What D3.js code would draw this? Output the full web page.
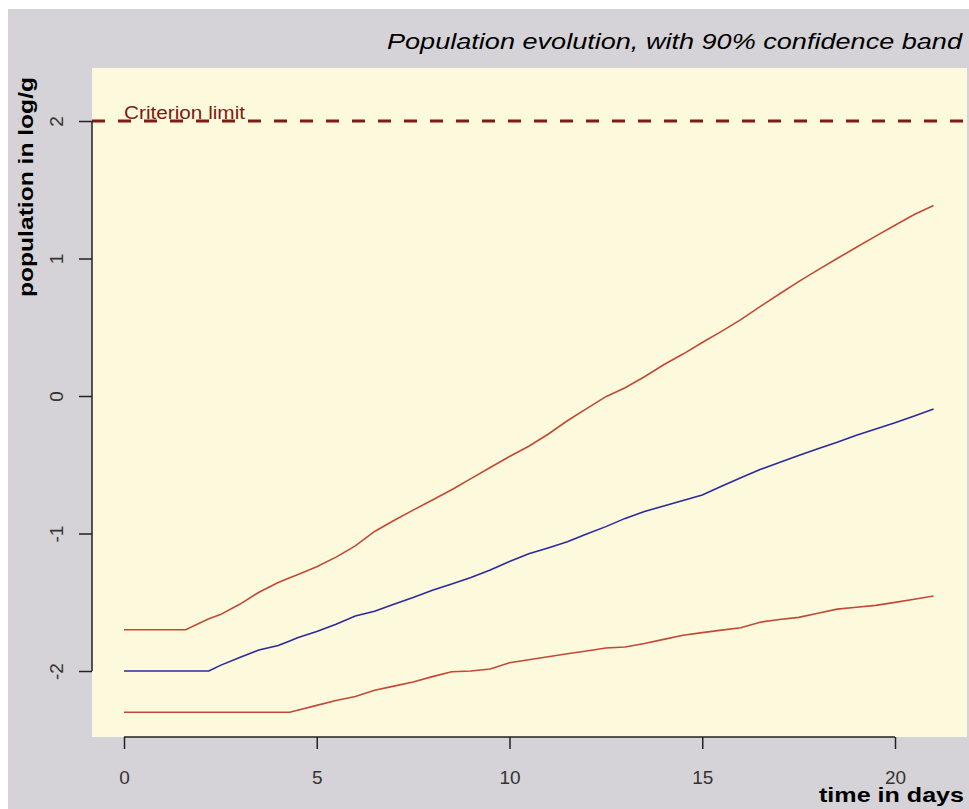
<!DOCTYPE html>
<html>
<head>
<meta charset="utf-8">
<script src="https://cdn.jsdelivr.net/npm/d3@7"></script>
<style>
  html, body { margin: 0; padding: 0; background: #ffffff; }
  svg { display: block; }
</style>
</head>
<body>
<svg id="chart" width="969" height="809"></svg>
<script>
// ---- data ----
const days = [0, 0.5, 1, 1.6, 2.2, 2.5, 3, 3.5, 4, 4.3, 4.5, 5, 5.5, 6, 6.5, 7, 7.5, 8, 8.5, 9, 9.5, 10,
  10.5, 11, 11.5, 12, 12.5, 13, 13.5, 14, 14.5, 15, 15.5, 16, 16.5, 17, 17.5, 18, 18.5, 19, 19.5, 20, 20.5, 21];
const upperBand = [-1.70, -1.70, -1.70, -1.70, -1.62, -1.59, -1.515, -1.427, -1.357, -1.322, -1.30, -1.242, -1.172,
  -1.09, -0.985, -0.905, -0.83, -0.756, -0.682, -0.601, -0.52, -0.44, -0.365, -0.278, -0.18, -0.092, -0.005,
  0.06, 0.14, 0.227, 0.305, 0.389, 0.47, 0.555, 0.65, 0.742, 0.832, 0.917, 1.0, 1.082, 1.163, 1.242, 1.32, 1.385];
const meanPop = [-2.0, -2.0, -2.0, -2.0, -2.0, -1.959, -1.902, -1.847, -1.815, -1.781, -1.758, -1.713, -1.66,
  -1.60, -1.565, -1.515, -1.466, -1.413, -1.367, -1.32, -1.265, -1.203, -1.147, -1.105, -1.06, -1.004, -0.95,
  -0.89, -0.84, -0.80, -0.76, -0.72, -0.656, -0.595, -0.535, -0.484, -0.432, -0.383, -0.336, -0.285, -0.24,
  -0.195, -0.145, -0.095];
const lowerBand = [-2.30, -2.30, -2.30, -2.30, -2.30, -2.30, -2.30, -2.30, -2.30, -2.30, -2.285, -2.25, -2.215,
  -2.185, -2.14, -2.11, -2.08, -2.041, -2.005, -2.0, -1.985, -1.94, -1.918, -1.896, -1.875, -1.854, -1.833,
  -1.825, -1.80, -1.77, -1.74, -1.721, -1.703, -1.685, -1.645, -1.626, -1.61, -1.58, -1.55, -1.536, -1.523,
  -1.501, -1.478, -1.455];
const criterionLimit = 2;
const xTicks = [0, 5, 10, 15, 20];
const yTicks = [-2, -1, 0, 1, 2];
const titleText = "Population evolution, with 90% confidence band";
const xLabelText = "time in days";
const yLabelText = "population in log/g";
const criterionText = "Criterion limit";

// ---- layout ----
const svg = d3.select("#chart");
const W = 969, H = 809;
const plot = { left: 92, right: 967, top: 68, bottom: 737 };

const x = d3.scaleLinear().domain([0, 20]).range([124, 895]);
const y = d3.scaleLinear().domain([-2, 2]).range([671, 121]);

// outer gray background
svg.append("rect").attr("x", 8).attr("y", 9).attr("width", W - 8).attr("height", H - 9).attr("fill", "#d5d3d7");
// plot panel
svg.append("rect").attr("x", plot.left).attr("y", plot.top)
  .attr("width", plot.right - plot.left).attr("height", plot.bottom - plot.top).attr("fill", "#fdf9dc");

// criterion line
svg.append("line")
  .attr("x1", plot.left).attr("x2", plot.right)
  .attr("y1", y(criterionLimit)).attr("y2", y(criterionLimit))
  .attr("stroke", "#7c1c12").attr("stroke-width", 3)
  .attr("stroke-dasharray", "13,13");
svg.append("text")
  .attr("x", x(0)).attr("y", y(criterionLimit) - 2)
  .attr("fill", "#7c1c12")
  .attr("font-family", "Liberation Sans, Arial, sans-serif")
  .attr("font-size", 18)
  .attr("textLength", 121).attr("lengthAdjust", "spacingAndGlyphs")
  .text(criterionText);

// series lines
const line = d3.line().x((d, i) => x(days[i])).y(d => y(d));
const series = [
  { values: upperBand, color: "#c04a36" },
  { values: lowerBand, color: "#c04a36" },
  { values: meanPop, color: "#2a2aa0" }
];
svg.selectAll("path.series").data(series).enter().append("path")
  .attr("class", "series")
  .attr("d", d => line(d.values))
  .attr("fill", "none")
  .attr("stroke", d => d.color)
  .attr("stroke-width", 1.6);

// axes
const axisColor = "#222";
const fmt = d => String(d);
const xAxis = d3.axisBottom(x).tickValues(xTicks).tickSize(12).tickPadding(22).tickFormat(fmt);
const gx = svg.append("g").attr("transform", `translate(0,${plot.bottom})`).call(xAxis);
gx.select(".domain").attr("stroke", axisColor).attr("stroke-width", 1.5)
  .attr("d", `M${x(0)},0H${x(20)}`);
gx.selectAll(".tick line").attr("stroke", axisColor).attr("stroke-width", 1.5);
gx.selectAll(".tick text").attr("fill", "#333").attr("font-size", 19)
  .attr("font-family", "Liberation Sans, Arial, sans-serif");

const yAxis = d3.axisLeft(y).tickValues(yTicks).tickSize(13).tickPadding(0).tickFormat(fmt);
const gy = svg.append("g").attr("transform", `translate(${plot.left},0)`).call(yAxis);
gy.select(".domain").attr("stroke", axisColor).attr("stroke-width", 1.5)
  .attr("d", `M0,${y(2)}V${y(-2)}`);
gy.selectAll(".tick line").attr("stroke", axisColor).attr("stroke-width", 1.5);
gy.selectAll(".tick text")
  .attr("fill", "#333").attr("font-size", 19)
  .attr("font-family", "Liberation Sans, Arial, sans-serif")
  .attr("x", null).attr("dy", null)
  .attr("text-anchor", "middle")
  .attr("transform", "translate(-36,0) rotate(-90)")
  .attr("y", 0).attr("dy", "0.35em");

// title
svg.append("text")
  .attr("x", 962).attr("y", 49)
  .attr("text-anchor", "end")
  .attr("font-family", "Liberation Sans, Arial, sans-serif")
  .attr("font-style", "italic")
  .attr("font-size", 22)
  .attr("fill", "#000")
  .attr("textLength", 575).attr("lengthAdjust", "spacingAndGlyphs")
  .text(titleText);

// x label
svg.append("text")
  .attr("x", 964).attr("y", 802)
  .attr("text-anchor", "end")
  .attr("font-family", "Liberation Sans, Arial, sans-serif")
  .attr("font-weight", "bold")
  .attr("font-size", 21)
  .attr("fill", "#000")
  .attr("textLength", 145).attr("lengthAdjust", "spacingAndGlyphs")
  .text(xLabelText);

// y label
svg.append("text")
  .attr("transform", "translate(33,187) rotate(-90)")
  .attr("text-anchor", "middle")
  .attr("font-family", "Liberation Sans, Arial, sans-serif")
  .attr("font-weight", "bold")
  .attr("font-size", 21)
  .attr("fill", "#000")
  .attr("textLength", 220).attr("lengthAdjust", "spacingAndGlyphs")
  .text(yLabelText);
</script>
</body>
</html>
